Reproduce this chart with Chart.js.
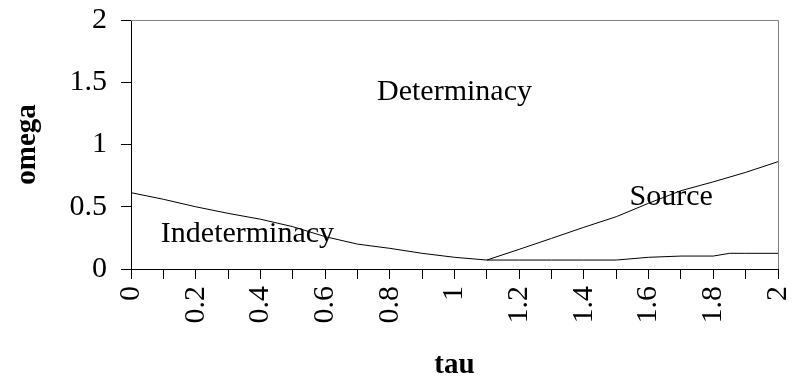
<!DOCTYPE html>
<html>
<head>
<meta charset="utf-8">
<script src="https://cdn.jsdelivr.net/npm/chart.js@4/dist/chart.umd.min.js"></script>
<style>
  html, body { margin: 0; padding: 0; background: #fff; }
  #wrap { width: 792px; height: 383px; }
</style>
</head>
<body>
<div id="wrap"><canvas id="grafico" width="792" height="383"></canvas></div>
<script>
// frontera indeterminacy / determinacy
const tauIndet = [0, 0.1, 0.2, 0.3, 0.4, 0.5, 0.6, 0.7, 0.8, 0.9, 1.0, 1.1];
const omegaIndet = [0.613, 0.56, 0.50, 0.447, 0.40, 0.34, 0.26, 0.20, 0.166, 0.126, 0.094, 0.072];

// frontera source (arriba)
const tauSource = [1.1, 1.2, 1.3, 1.4, 1.5, 1.6, 1.7, 1.8, 1.9, 2.0];
const omegaSource = [0.072, 0.158, 0.246, 0.335, 0.42, 0.528, 0.629, 0.70, 0.776, 0.862];

// frontera source (abajo)
const tauBajo = [1.1, 1.2, 1.3, 1.4, 1.5, 1.6, 1.7, 1.8, 1.85, 1.9, 2.0];
const omegaBajo = [0.072, 0.072, 0.072, 0.072, 0.072, 0.094, 0.104, 0.104, 0.126, 0.126, 0.126];

const etiquetas = ['Determinacy', 'Source', 'Indeterminacy'];
const etiquetaTau = [1.0, 1.67, 0.36];
const etiquetaOmega = [1.42, 0.58, 0.28];

const fuente = "'Liberation Serif', 'DejaVu Serif', serif";

const puntos = (xs, ys) => xs.map((x, i) => ({ x: x, y: ys[i] }));

const serie = (xs, ys) => ({
  data: puntos(xs, ys),
  showLine: true,
  borderColor: '#000',
  borderWidth: 1,
  pointRadius: 0,
  tension: 0,
  fill: false
});

// marco gris arriba y derecha + textos de regiones
const marcoYTextos = {
  id: 'marcoYTextos',
  afterDatasetsDraw (chart) {
    const ctx = chart.ctx;
    const a = chart.chartArea;
    ctx.save();
    ctx.strokeStyle = '#808080';
    ctx.lineWidth = 1;
    ctx.beginPath();
    ctx.moveTo(a.left, a.top + 0.5);
    ctx.lineTo(a.right + 0.5, a.top + 0.5);
    ctx.lineTo(a.right + 0.5, a.bottom);
    ctx.stroke();

    ctx.fillStyle = '#000';
    ctx.font = '30px ' + fuente;
    ctx.textAlign = 'center';
    ctx.textBaseline = 'middle';
    for (let i = 0; i < etiquetas.length; i++) {
      const px = chart.scales.x.getPixelForValue(etiquetaTau[i]);
      const py = chart.scales.y.getPixelForValue(etiquetaOmega[i]);
      ctx.fillText(etiquetas[i], px, py);
    }
    ctx.restore();
  }
};

const chart = new Chart(document.getElementById('grafico'), {
  type: 'scatter',
  data: {
    datasets: [
      serie(tauIndet, omegaIndet),
      serie(tauSource, omegaSource),
      serie(tauBajo, omegaBajo)
    ]
  },
  options: {
    responsive: false,
    animation: false,
    layout: { padding: { left: 0, right: 14, top: 20, bottom: 0 } },
    plugins: { legend: { display: false }, tooltip: { enabled: false } },
    scales: {
      x: {
        type: 'linear',
        min: 0,
        max: 2,
        afterFit: (s) => { s.height = 114; s.paddingLeft = 0; s.paddingRight = 0; },
        ticks: {
          stepSize: 0.1,
          autoSkip: false,
          minRotation: 90,
          maxRotation: 90,
          color: '#000',
          font: { family: fuente, size: 30 },
          padding: 7,
          callback: (v) => {
            const n = Math.round(v * 10);
            return n % 2 === 0 ? String(n / 10) : '';
          }
        },
        grid: { display: true, drawOnChartArea: false, drawTicks: true, tickLength: 10, color: '#000' },
        border: { display: true, color: '#000', width: 1 },
        title: { display: true, text: 'tau', color: '#000', font: { family: fuente, size: 29, weight: 'bold' }, padding: { top: 0, bottom: 0 } }
      },
      y: {
        min: 0,
        max: 2,
        afterFit: (s) => { s.width = 131; s.paddingTop = 0; s.paddingBottom = 0; },
        ticks: {
          stepSize: 0.5,
          color: '#000',
          font: { family: fuente, size: 30 },
          padding: 14,
          callback: (v) => String(v)
        },
        grid: { display: true, drawOnChartArea: false, drawTicks: true, tickLength: 10, color: '#000' },
        border: { display: true, color: '#000', width: 1 },
        title: { display: true, text: 'omega', color: '#000', font: { family: fuente, size: 29, weight: 'bold' }, padding: { top: 10, bottom: 0 } }
      }
    }
  },
  plugins: [marcoYTextos]
});
</script>
</body>
</html>
